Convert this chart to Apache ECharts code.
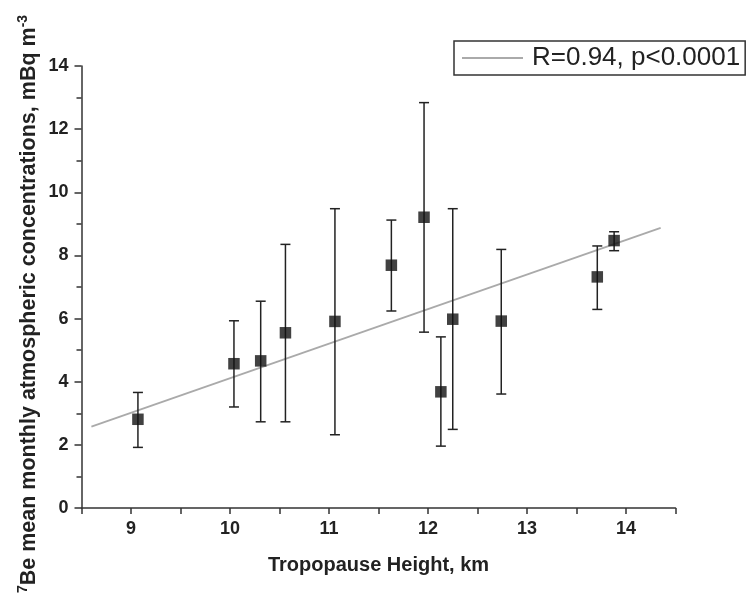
<!DOCTYPE html>
<html>
<head>
<meta charset="utf-8">
<script src="https://cdn.jsdelivr.net/npm/echarts@6/dist/echarts.min.js"></script>
<style>
html,body{margin:0;padding:0;background:#fff;}
#chart{width:748px;height:599px;}
</style>
</head>
<body>
<div id="chart"></div>
<script>
// Tropopause height (km)
var heights = [9.07, 10.04, 10.31, 10.56, 11.06, 11.63, 11.96, 12.13, 12.25, 12.74, 13.71, 13.88];
// 7Be mean monthly concentrations (mBq m-3)
var means   = [2.81, 4.57, 4.66, 5.55, 5.91, 7.69, 9.21, 3.68, 5.98, 5.92, 7.32, 8.47];
var upper   = [3.66, 5.93, 6.55, 8.35, 9.48, 9.12, 12.84, 5.42, 9.48, 8.19, 8.30, 8.75];
var lower   = [1.92, 3.20, 2.73, 2.73, 2.32, 6.24, 5.57, 1.96, 2.49, 3.61, 6.29, 8.15];
// Linear fit endpoints
var fitX = [8.6, 14.35];
var fitY = [2.58, 8.87];
var fitName = 'R=0.94, p<0.0001';
var xTicks = [9, 10, 11, 12, 13, 14];
var yTicks = [0, 2, 4, 6, 8, 10, 12, 14];

var FONT = '"Liberation Sans", Arial, sans-serif';

var points = heights.map(function (h, i) { return [h, means[i]]; });
var bars = heights.map(function (h, i) { return [h, lower[i], upper[i]]; });
var fit = fitX.map(function (x, i) { return [x, fitY[i]]; });

function renderErr(params, api) {
  var x = api.value(0), lo = api.value(1), hi = api.value(2);
  var pLo = api.coord([x, lo]), pHi = api.coord([x, hi]);
  var hw = 5;
  var st = { stroke: '#222', lineWidth: 1.5 };
  return {
    type: 'group',
    children: [
      { type: 'line', shape: { x1: pLo[0], y1: pLo[1], x2: pHi[0], y2: pHi[1] }, style: st },
      { type: 'line', shape: { x1: pLo[0] - hw, y1: pLo[1], x2: pLo[0] + hw, y2: pLo[1] }, style: st },
      { type: 'line', shape: { x1: pHi[0] - hw, y1: pHi[1], x2: pHi[0] + hw, y2: pHi[1] }, style: st }
    ]
  };
}

var chart = echarts.init(document.getElementById('chart'), null, { renderer: 'canvas' });
chart.setOption({
  animation: false,
  backgroundColor: '#fff',
  grid: { left: 81.5, right: 72.5, top: 66, bottom: 91, containLabel: false },
  legend: {
    left: 454, top: 41,
    padding: [4, 5, 4, 8],
    borderColor: '#333', borderWidth: 1.5, borderRadius: 0,
    itemWidth: 61, itemHeight: 2,
    data: [{ name: fitName, icon: 'rect' }],
    textStyle: { fontFamily: FONT, fontSize: 26, color: '#222', padding: [0, 0, 0, 4] },
    selectedMode: false
  },
  xAxis: {
    type: 'value', min: 8.5, max: 14.5, interval: 0.5,
    name: 'Tropopause Height, km', nameLocation: 'middle', nameGap: 47,
    nameTextStyle: { fontFamily: FONT, fontSize: 20, fontWeight: 'bold', color: '#222' },
    axisLine: { show: true, lineStyle: { color: '#333', width: 1.5 } },
    axisTick: { show: true, inside: false, length: 6, lineStyle: { color: '#333', width: 1.5 } },
    axisLabel: {
      margin: 12, fontFamily: FONT, fontSize: 18, fontWeight: 'bold', color: '#222',
      formatter: function (v) { return xTicks.indexOf(v) >= 0 ? String(v) : ''; }
    },
    splitLine: { show: false }
  },
  yAxis: {
    type: 'value', min: 0, max: 14, interval: 2,
    axisLine: { show: true, lineStyle: { color: '#333', width: 1.5 } },
    axisTick: { show: true, inside: false, length: 7, lineStyle: { color: '#333', width: 1.5 } },
    minorTick: { show: true, splitNumber: 2, length: 5, lineStyle: { color: '#333', width: 1.5 } },
    axisLabel: {
      margin: 13, fontFamily: FONT, fontSize: 18, fontWeight: 'bold', color: '#222',
      formatter: function (v) { return yTicks.indexOf(v) >= 0 ? String(v) : ''; }
    },
    splitLine: { show: false }
  },
  graphic: [{
    type: 'text',
    x: 29, y: 304,
    rotation: Math.PI / 2,
    style: {
      text: '{sup|7}{m|Be mean monthly atmospheric concentrations, mBq m}{sup|-3}',
      align: 'center', verticalAlign: 'middle',
      fill: '#222',
      rich: {
        m: { fontFamily: FONT, fontSize: 21.5, fontWeight: 'bold', fill: '#222', lineHeight: 26 },
        sup: { fontFamily: FONT, fontSize: 14, fontWeight: 'bold', fill: '#222', verticalAlign: 'top', lineHeight: 26 }
      }
    }
  }],
  series: [
    {
      name: fitName, type: 'line', data: fit, showSymbol: false, symbol: 'none',
      lineStyle: { color: '#aaa', width: 1.8 }, itemStyle: { color: '#aaa' }, z: 1
    },
    {
      name: 'err', type: 'custom', data: bars, renderItem: renderErr,
      encode: { x: 0, y: [1, 2] }, z: 2
    },
    {
      name: 'mean', type: 'scatter', data: points, symbol: 'rect', symbolSize: 11.5,
      itemStyle: { color: '#111' }, z: 3
    }
  ]
});
</script>
</body>
</html>
